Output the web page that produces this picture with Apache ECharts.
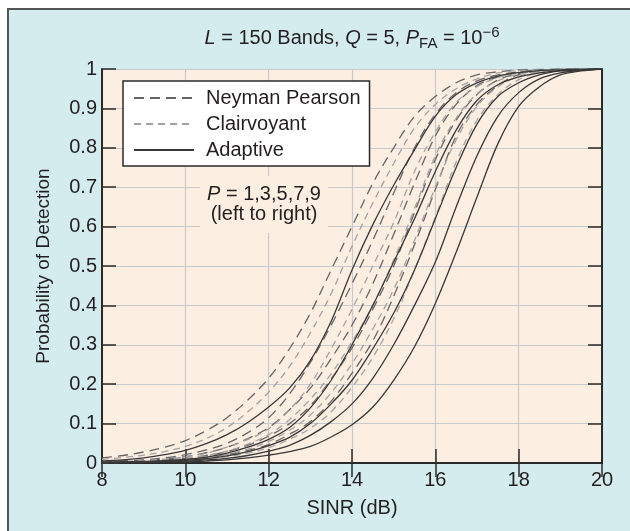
<!DOCTYPE html>
<html>
<head>
<meta charset="utf-8">
<script src="https://cdn.jsdelivr.net/npm/echarts@6/dist/echarts.min.js"></script>
<style>
  html, body { margin: 0; padding: 0; background: #ffffff; }
  #wrap { position: relative; width: 630px; height: 531px; overflow: hidden; }
  #panel { position: absolute; left: 7px; top: 8px; width: 640px; height: 540px;
           background: #d5ecef; border-top: 2px solid #555; border-left: 2px solid #555; }
  #chart { position: absolute; left: 0; top: 0; width: 630px; height: 531px; }
</style>
</head>
<body>
<div id="wrap"><div id="panel"></div><div id="chart"></div></div>
<script>
// SINR (dB) sample positions
const sinr = [8, 8.5, 9, 9.5, 10, 10.5, 11, 11.5, 12, 12.5, 13, 13.5, 14, 14.5, 15, 15.5, 16, 16.5, 17, 17.5, 18, 18.5, 19, 19.5, 20];

// Neyman Pearson, P = 1,3,5,7,9
const np1 = [0.013, 0.019, 0.028, 0.04, 0.057, 0.082, 0.115, 0.16, 0.215, 0.29, 0.38, 0.49, 0.60, 0.71, 0.80, 0.88, 0.93, 0.965, 0.985, 0.993, 0.998, 0.999, 1, 1, 1];
const np3 = [0.004, 0.006, 0.008, 0.013, 0.021, 0.033, 0.05, 0.077, 0.115, 0.175, 0.255, 0.35, 0.455, 0.565, 0.685, 0.80, 0.885, 0.94, 0.97, 0.985, 0.993, 0.997, 0.999, 1, 1];
const np5 = [0.003, 0.004, 0.0065, 0.01, 0.016, 0.026, 0.04, 0.062, 0.09, 0.135, 0.19, 0.265, 0.35, 0.455, 0.58, 0.71, 0.83, 0.91, 0.958, 0.98, 0.992, 0.997, 0.999, 1, 1];
const np7 = [0.003, 0.004, 0.005, 0.008, 0.012, 0.019, 0.029, 0.045, 0.068, 0.10, 0.145, 0.213, 0.292, 0.39, 0.50, 0.636, 0.77, 0.87, 0.935, 0.972, 0.989, 0.996, 0.999, 1, 1];
const np9 = [0.002, 0.0025, 0.003, 0.005, 0.0086, 0.013, 0.021, 0.032, 0.047, 0.073, 0.105, 0.157, 0.228, 0.31, 0.423, 0.554, 0.694, 0.83, 0.91, 0.958, 0.986, 0.995, 0.999, 1, 1];

// Clairvoyant, P = 1,3,5,7,9
const cv1 = [0.009, 0.014, 0.02, 0.029, 0.042, 0.062, 0.09, 0.13, 0.18, 0.245, 0.33, 0.43, 0.55, 0.66, 0.76, 0.85, 0.91, 0.95, 0.975, 0.99, 0.996, 0.998, 0.999, 1, 1];
const cv3 = [0.003, 0.004, 0.006, 0.01, 0.016, 0.025, 0.04, 0.06, 0.087, 0.135, 0.20, 0.29, 0.39, 0.50, 0.61, 0.74, 0.84, 0.915, 0.955, 0.978, 0.99, 0.995, 0.998, 0.999, 1];
const cv5 = [0.002, 0.003, 0.005, 0.008, 0.012, 0.019, 0.03, 0.048, 0.072, 0.11, 0.162, 0.226, 0.308, 0.40, 0.515, 0.645, 0.78, 0.875, 0.937, 0.97, 0.987, 0.995, 0.998, 0.999, 1];
const cv7 = [0.002, 0.003, 0.004, 0.006, 0.01, 0.015, 0.022, 0.035, 0.055, 0.083, 0.122, 0.178, 0.252, 0.34, 0.44, 0.565, 0.70, 0.82, 0.905, 0.955, 0.981, 0.993, 0.998, 0.999, 1];
const cv9 = [0.001, 0.0015, 0.002, 0.004, 0.007, 0.011, 0.016, 0.025, 0.039, 0.06, 0.088, 0.13, 0.192, 0.268, 0.366, 0.49, 0.624, 0.764, 0.87, 0.935, 0.973, 0.991, 0.997, 0.999, 1];

// Adaptive, P = 1,3,5,7,9
const ad1 = [0.005, 0.008, 0.013, 0.021, 0.032, 0.049, 0.072, 0.103, 0.142, 0.19, 0.26, 0.36, 0.49, 0.605, 0.705, 0.795, 0.88, 0.935, 0.965, 0.982, 0.991, 0.996, 0.998, 0.999, 1];
const ad3 = [0.002, 0.003, 0.004, 0.006, 0.009, 0.015, 0.025, 0.04, 0.06, 0.09, 0.14, 0.21, 0.30, 0.40, 0.51, 0.62, 0.74, 0.845, 0.92, 0.96, 0.98, 0.99, 0.996, 0.998, 1];
const ad5 = [0.001, 0.002, 0.003, 0.005, 0.007, 0.011, 0.018, 0.029, 0.044, 0.065, 0.10, 0.15, 0.21, 0.29, 0.38, 0.49, 0.62, 0.75, 0.86, 0.93, 0.965, 0.985, 0.995, 0.998, 1];
const ad7 = [0.001, 0.0015, 0.002, 0.003, 0.005, 0.008, 0.012, 0.019, 0.03, 0.045, 0.07, 0.105, 0.15, 0.215, 0.30, 0.40, 0.51, 0.65, 0.78, 0.88, 0.94, 0.975, 0.99, 0.997, 1];
const ad9 = [0.0005, 0.0008, 0.001, 0.002, 0.003, 0.005, 0.008, 0.013, 0.02, 0.029, 0.042, 0.066, 0.097, 0.142, 0.21, 0.295, 0.405, 0.535, 0.675, 0.81, 0.905, 0.955, 0.985, 0.995, 1];

// Axis ticks
const xTicks = [8, 10, 12, 14, 16, 18, 20];
const yTicks = [0, 0.1, 0.2, 0.3, 0.4, 0.5, 0.6, 0.7, 0.8, 0.9, 1];

const legendNames = ['Neyman Pearson', 'Clairvoyant', 'Adaptive'];
const titleText = '{i|L}{n| = 150 Bands, }{i|Q}{n| = 5, }{i|P}{sub|FA}{n| = 10}{sup|\u22126}';
const noteLine1 = '{i|P}{n| = 1,3,5,7,9}';
const noteLine2 = '(left to right)';

const FONT = "'Liberation Sans', Arial, Helvetica, sans-serif";
const TXT = '#231f20';

const styles = {
  'Neyman Pearson': { color: '#666666', width: 1.3, type: [10, 6] },
  'Clairvoyant': { color: '#a2a2a2', width: 1.3, type: [7, 5] },
  'Adaptive': { color: '#383838', width: 1.3, type: 'solid' }
};

function mk(name, ys) {
  const st = styles[name];
  return {
    type: 'line', name: name,
    data: sinr.map((x, i) => [x, ys[i]]),
    showSymbol: false, symbol: 'none', legendIcon: 'none',
    smooth: 0.35,
    lineStyle: { color: st.color, width: st.width, type: st.type },
    itemStyle: { color: st.color },
    silent: true
  };
}

const series = [
  mk('Neyman Pearson', np1), mk('Neyman Pearson', np3), mk('Neyman Pearson', np5), mk('Neyman Pearson', np7), mk('Neyman Pearson', np9),
  mk('Clairvoyant', cv1), mk('Clairvoyant', cv3), mk('Clairvoyant', cv5), mk('Clairvoyant', cv7), mk('Clairvoyant', cv9),
  mk('Adaptive', ad1), mk('Adaptive', ad3), mk('Adaptive', ad5), mk('Adaptive', ad7), mk('Adaptive', ad9)
];

const axisLineStyle = { color: '#2a2a2a', width: 2 };
const tickStyle = { show: true, inside: true, length: 14, lineStyle: { color: '#2a2a2a', width: 1.5 } };
const gridLine = { show: true, lineStyle: { color: '#c8c9cd', width: 1.2 } };

const option = {
  animation: false,
  backgroundColor: 'transparent',
  textStyle: { fontFamily: FONT },
  grid: { left: 102, right: 28, top: 69, bottom: 68, show: true, backgroundColor: '#fdeee2', borderWidth: 0 },
  legend: {
    data: legendNames, orient: 'vertical', left: 123, top: 81,
    itemWidth: 60, itemHeight: 14, itemGap: 6,
    padding: [7, 9, 6, 10],
    backgroundColor: '#ffffff', borderColor: '#2a2a2a', borderWidth: 1.5, borderRadius: 0,
    selectedMode: false,
    itemStyle: { opacity: 0 },
    textStyle: { fontSize: 20, color: TXT, fontFamily: FONT, padding: [0, 0, 0, 7] }
  },
  xAxis: [
    {
      type: 'value', min: xTicks[0], max: xTicks[xTicks.length - 1], interval: xTicks[1] - xTicks[0], position: 'bottom',
      axisLine: { show: true, lineStyle: axisLineStyle },
      axisTick: tickStyle,
      axisLabel: { fontSize: 20, color: TXT, margin: 7, fontFamily: FONT },
      splitLine: gridLine,
      name: 'SINR (dB)', nameLocation: 'middle', nameGap: 35,
      nameTextStyle: { fontSize: 20, color: TXT, fontFamily: FONT }
    },
    {
      type: 'value', min: xTicks[0], max: xTicks[xTicks.length - 1], interval: xTicks[1] - xTicks[0], position: 'top',
      axisLine: { show: true, lineStyle: axisLineStyle },
      axisTick: tickStyle, axisLabel: { show: false }, splitLine: { show: false }
    }
  ],
  yAxis: [
    {
      type: 'value', min: yTicks[0], max: yTicks[yTicks.length - 1], interval: 0.1, position: 'left',
      axisLine: { show: true, lineStyle: axisLineStyle },
      axisTick: tickStyle,
      axisLabel: { fontSize: 20, color: TXT, margin: 5, fontFamily: FONT },
      splitLine: gridLine,
      name: 'Probability of Detection', nameLocation: 'middle', nameGap: 49, nameRotate: 90,
      nameTextStyle: { fontSize: 19, color: TXT, fontFamily: FONT }
    },
    {
      type: 'value', min: yTicks[0], max: yTicks[yTicks.length - 1], interval: 0.1, position: 'right',
      axisLine: { show: true, lineStyle: axisLineStyle },
      axisTick: tickStyle, axisLabel: { show: false }, splitLine: { show: false }
    }
  ],
  graphic: [
    {
      type: 'text', x: 352, y: 38, z: 100, silent: true,
      style: {
        text: titleText, textAlign: 'center', textVerticalAlign: 'middle',
        fontSize: 20, fontFamily: FONT, fill: TXT,
        rich: {
          n: { fontSize: 20, fontFamily: FONT, fill: TXT, lineHeight: 26, verticalAlign: 'middle' },
          i: { fontSize: 20, fontFamily: FONT, fill: TXT, fontStyle: 'italic', lineHeight: 26, verticalAlign: 'middle' },
          sub: { fontSize: 15, fontFamily: FONT, fill: TXT, lineHeight: 15, verticalAlign: 'bottom' },
          sup: { fontSize: 15, fontFamily: FONT, fill: TXT, lineHeight: 15, verticalAlign: 'top' }
        }
      }
    },
    {
      type: 'rect', z: 99, silent: true,
      shape: { x: 200, y: 176, width: 128, height: 57 },
      style: { fill: '#fdeee2' }
    },
    {
      type: 'text', x: 264, y: 194, z: 100, silent: true,
      style: {
        text: noteLine1, textAlign: 'center', textVerticalAlign: 'middle',
        fontSize: 20, fontFamily: FONT, fill: TXT,
        rich: {
          n: { fontSize: 20, fontFamily: FONT, fill: TXT },
          i: { fontSize: 20, fontFamily: FONT, fill: TXT, fontStyle: 'italic' }
        }
      }
    },
    {
      type: 'text', x: 264, y: 214, z: 100, silent: true,
      style: {
        text: noteLine2, textAlign: 'center', textVerticalAlign: 'middle',
        fontSize: 20, fontFamily: FONT, fill: TXT
      }
    }
  ],
  series: series
};

const chart = echarts.init(document.getElementById('chart'), null, { renderer: 'canvas' });
chart.setOption(option);
</script>
</body>
</html>
